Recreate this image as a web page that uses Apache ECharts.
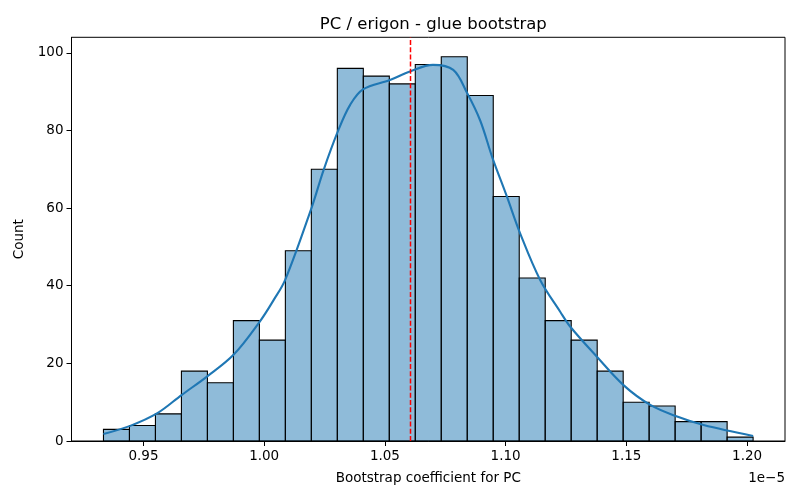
<!DOCTYPE html>
<html>
<head>
<meta charset="utf-8">
<script src="https://cdn.jsdelivr.net/npm/echarts@6/dist/echarts.min.js"></script>
<style>
  html, body { margin: 0; padding: 0; background: #fff; }
  #chart { width: 800px; height: 500px; }
</style>
</head>
<body>
<div id="chart"></div>
<script>
// histogram bins (x in units of 1e-5)
const binStart = 0.93344;
const binWidth = 0.010762;
const counts = [3, 4, 7, 18, 15, 31, 26, 49, 70, 96, 94, 92, 97, 99, 89, 63, 42, 31, 26, 18, 10, 9, 5, 5, 1];

// KDE curve
const kdeX = [0.9334, 0.9445, 0.9556, 0.9659, 0.9763, 0.9873, 0.9981, 1.0039, 1.0087, 1.0198, 1.0246, 1.0308,
              1.0356, 1.0409, 1.0521, 1.0604, 1.0699, 1.0783, 1.0840, 1.0895, 1.0945, 1.1005, 1.1060, 1.1143,
              1.1226, 1.1267, 1.1378, 1.1488, 1.1599, 1.1710, 1.1820, 1.2025];
const kdeY = [1.8, 3.9, 7.1, 11.9, 16.6, 22.2, 30.7, 36.3, 41.5, 60.4, 69.8, 80.2,
              86.6, 90.6, 93.0, 95.2, 96.9, 95.6, 89.7, 82.5, 73.0, 63.0, 53.5, 41.5,
              33.3, 29.5, 21.7, 14.4, 9.3, 6.3, 4.1, 1.3];

const meanValue = 1.0606;
const xTicks = [0.95, 1.00, 1.05, 1.10, 1.15, 1.20];
const yTicks = [0, 20, 40, 60, 80, 100];
const yMin = 0, yMax = 104;

const font = 'DejaVu Sans';
const gridLeft = 71.5, gridRight = 15, gridTop = 37.3, gridBottom = 59;
const plotCenter = gridLeft + (800 - gridLeft - gridRight) / 2;

const histData = counts.map((c, i) => [binStart + i * binWidth, binStart + (i + 1) * binWidth, c]);
const kdeData = kdeX.map((x, i) => [x, kdeY[i]]);

const chart = echarts.init(document.getElementById('chart'), null, { renderer: 'canvas' });

chart.setOption({
  animation: false,
  backgroundColor: '#fff',
  title: {
    text: 'PC / erigon - glue bootstrap',
    left: plotCenter,
    top: 11,
    textAlign: 'center',
    textStyle: { fontFamily: font, fontSize: 16.5, fontWeight: 'normal', color: '#000' }
  },
  grid: {
    left: gridLeft, right: gridRight, top: gridTop, bottom: gridBottom,
    show: true, borderColor: '#000', borderWidth: 1, containLabel: false
  },
  xAxis: {
    type: 'value',
    min: 0.9202,
    max: 1.2157,
    name: 'Bootstrap coefficient for PC',
    nameLocation: 'middle',
    nameGap: 30,
    nameTextStyle: { fontFamily: font, fontSize: 13.5, color: '#000' },
    axisLine: { show: true, onZero: false, lineStyle: { color: '#000', width: 1 } },
    axisTick: { show: true, length: 5, lineStyle: { color: '#000' }, customValues: xTicks },
    axisLabel: {
      fontFamily: font, fontSize: 13.5, color: '#000', margin: 8,
      customValues: xTicks,
      formatter: v => v.toFixed(2)
    },
    splitLine: { show: false }
  },
  yAxis: {
    type: 'value',
    min: yMin,
    max: yMax,
    interval: 20,
    name: 'Count',
    nameLocation: 'middle',
    nameGap: 43,
    nameTextStyle: { fontFamily: font, fontSize: 13.5, color: '#000' },
    axisLine: { show: true, lineStyle: { color: '#000', width: 1 } },
    axisTick: { show: true, length: 5, lineStyle: { color: '#000' }, customValues: yTicks },
    axisLabel: { fontFamily: font, fontSize: 13.5, color: '#000', margin: 8, customValues: yTicks },
    splitLine: { show: false }
  },
  graphic: [{
    type: 'text',
    right: 15,
    top: 471,
    style: { text: '1e\u22125', font: '13.5px "DejaVu Sans"', fill: '#000' }
  }],
  series: [
    {
      type: 'custom',
      name: 'hist',
      data: histData,
      encode: { x: [0, 1], y: 2 },
      renderItem: function (params, api) {
        const p0 = api.coord([api.value(0), api.value(2)]);
        const p1 = api.coord([api.value(1), 0]);
        return {
          type: 'rect',
          shape: { x: p0[0], y: p0[1], width: p1[0] - p0[0], height: p1[1] - p0[1] },
          style: { fill: 'rgba(31,119,180,0.5)', stroke: '#000', lineWidth: 1.1 }
        };
      },
      z: 2
    },
    {
      type: 'line',
      name: 'kde',
      data: kdeData,
      smooth: 0.35,
      showSymbol: false,
      lineStyle: { color: '#1f77b4', width: 2.1 },
      z: 3
    },
    {
      type: 'line',
      name: 'mean',
      data: [[meanValue, yMin], [meanValue, yMax]],
      showSymbol: false,
      silent: true,
      lineStyle: { color: '#ff0000', type: [5, 2.2], width: 1.5, opacity: 1 },
      z: 10
    }
  ]
});
</script>
</body>
</html>
